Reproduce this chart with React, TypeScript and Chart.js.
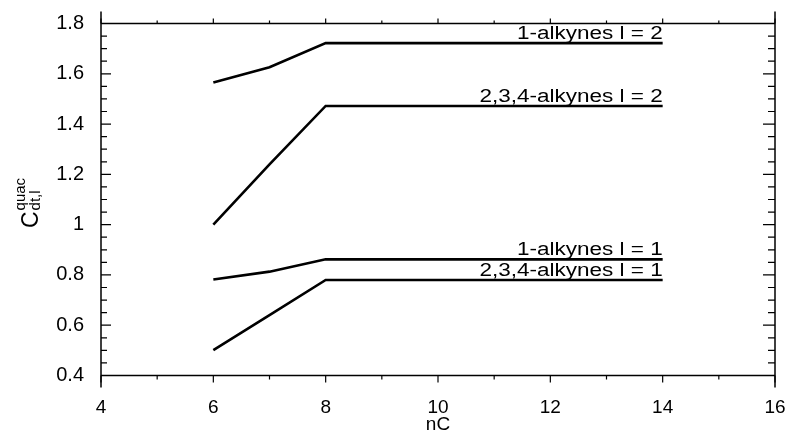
import React, { useEffect, useRef } from "react";
import { Chart, registerables } from "chart.js";

Chart.register(...registerables);

// ---- data ----
const nC = [6, 7, 8, 14];
const alk1_l2 = [1.565, 1.626, 1.722, 1.722];
const alk234_l2 = [1.0, 1.24, 1.472, 1.472];
const alk1_l1 = [0.782, 0.813, 0.862, 0.862];
const alk234_l1 = [0.501, 0.64, 0.78, 0.78];
const seriesLabels = ["1-alkynes l = 2", "2,3,4-alkynes l = 2", "1-alkynes l = 1", "2,3,4-alkynes l = 1"];
const xTicks = [4, 6, 8, 10, 12, 14, 16];
const yTicks = [0.4, 0.6, 0.8, 1.0, 1.2, 1.4, 1.6, 1.8];
const xTitle = "nC";

const FONT = "'Liberation Sans', Arial, Helvetica, sans-serif";

const framePlugin = {
  id: "frame",
  afterDraw(chart: any) {
    const ctx = chart.ctx;
    const xs = chart.scales.x;
    const ys = chart.scales.y;
    const { left, right, top, bottom } = chart.chartArea;
    ctx.save();
    ctx.strokeStyle = "#000";
    ctx.lineWidth = 1.5;
    // frame
    ctx.beginPath();
    ctx.moveTo(left, top - 12);
    ctx.lineTo(left, bottom + 12);
    ctx.moveTo(right, top - 12);
    ctx.lineTo(right, bottom + 12);
    ctx.moveTo(left, top);
    ctx.lineTo(right, top);
    ctx.moveTo(left, bottom);
    ctx.lineTo(right, bottom);
    ctx.stroke();
    // x ticks
    ctx.lineWidth = 1.2;
    ctx.beginPath();
    for (let i = 0; i < xTicks.length; i++) {
      const v = xTicks[i];
      const px = xs.getPixelForValue(v);
      ctx.moveTo(px, bottom);
      ctx.lineTo(px, bottom + 7);
      ctx.moveTo(px, top);
      ctx.lineTo(px, top - 5);
      if (i < xTicks.length - 1) {
        const mv = (v + xTicks[i + 1]) / 2;
        const mp = xs.getPixelForValue(mv);
        ctx.moveTo(mp, bottom);
        ctx.lineTo(mp, bottom + 4);
        ctx.moveTo(mp, top);
        ctx.lineTo(mp, top - 3);
      }
    }
    // y ticks
    for (let i = 0; i < yTicks.length; i++) {
      const v = yTicks[i];
      const py = ys.getPixelForValue(v);
      ctx.moveTo(left, py);
      ctx.lineTo(left + 10, py);
      ctx.moveTo(right, py);
      ctx.lineTo(right - 12, py);
      if (i < yTicks.length - 1) {
        const step = (yTicks[i + 1] - v) / 4;
        for (let k = 1; k < 4; k++) {
          const mp = ys.getPixelForValue(v + step * k);
          ctx.moveTo(left, mp);
          ctx.lineTo(left + 6, mp);
          ctx.moveTo(right, mp);
          ctx.lineTo(right - 7, mp);
        }
      }
    }
    ctx.stroke();

    // series labels
    ctx.fillStyle = "#000";
    ctx.font = `18px ${FONT}`;
    ctx.textAlign = "right";
    ctx.textBaseline = "alphabetic";
    chart.data.datasets.forEach((ds: any, i: number) => {
      const last = ds.data[ds.data.length - 1];
      const px = xs.getPixelForValue(last.x);
      const py = ys.getPixelForValue(last.y);
      ctx.save();
      ctx.translate(px, py - 4);
      ctx.scale(1.25, 1);
      ctx.fillText(seriesLabels[i], 0, 0);
      ctx.restore();
    });

    // x title
    ctx.font = `19px ${FONT}`;
    ctx.textAlign = "center";
    ctx.textBaseline = "middle";
    ctx.fillText(xTitle, (left + right) / 2, 425);

    // y title: C^{quac}_{dt,l}
    ctx.save();
    ctx.translate(30, (top + bottom) / 2);
    ctx.rotate(-Math.PI / 2);
    ctx.textAlign = "left";
    ctx.textBaseline = "alphabetic";
    ctx.font = `23px ${FONT}`;
    const wC = ctx.measureText("C").width;
    ctx.font = `15px ${FONT}`;
    const wSup = ctx.measureText("quac").width;
    const wSub = ctx.measureText("dt,l").width;
    const total = wC + Math.max(wSup, wSub);
    const x0 = -total / 2 - 4;
    ctx.font = `23px ${FONT}`;
    ctx.fillText("C", x0, 8);
    ctx.font = `15px ${FONT}`;
    ctx.fillText("quac", x0 + wC + 1, -5);
    ctx.fillText("dt,l", x0 + wC + 1, 10);
    ctx.restore();

    ctx.restore();
  },
};

export default function App() {
  const ref = useRef<HTMLCanvasElement | null>(null);
  useEffect(() => {
    document.body.style.margin = "0";
    if (!ref.current) return;
    const mk = (vals: number[]) => nC.map((x, i) => ({ x, y: vals[i] }));
    const series = [alk1_l2, alk234_l2, alk1_l1, alk234_l1];
    const chart = new Chart(ref.current, {
      type: "line",
      data: {
        datasets: series.map((s, i) => ({
          label: seriesLabels[i],
          data: mk(s),
          borderColor: "#000",
          backgroundColor: "#000",
          borderWidth: 2.6,
          pointRadius: 0,
          tension: 0,
          fill: false,
        })),
      },
      options: {
        responsive: false,
        animation: false,
        events: [],
        layout: { padding: { left: 0, right: 13, top: 23.5, bottom: 0 } },
        plugins: { legend: { display: false }, tooltip: { enabled: false }, title: { display: false } },
        scales: {
          x: {
            type: "linear",
            min: 4,
            max: 16,
            afterFit: (s: any) => {
              s.height = 58.5;
              s.paddingLeft = 0;
              s.paddingRight = 0;
            },
            afterBuildTicks: (s: any) => {
              s.ticks = xTicks.map((v) => ({ value: v }));
            },
            ticks: {
              color: "#000",
              font: { family: FONT, size: 19 },
              padding: 21,
              maxRotation: 0,
              callback: (v: any) => String(v),
            },
            grid: { display: false, drawTicks: false },
            border: { display: false },
          },
          y: {
            type: "linear",
            min: 0.4,
            max: 1.8,
            afterFit: (s: any) => {
              s.width = 101;
              s.paddingTop = 0;
              s.paddingBottom = 0;
            },
            afterBuildTicks: (s: any) => {
              s.ticks = yTicks.map((v) => ({ value: v }));
            },
            ticks: {
              color: "#000",
              font: { family: FONT, size: 20 },
              padding: 17,
              callback: (v: any) => String(Math.round(Number(v) * 10) / 10),
            },
            grid: { display: false, drawTicks: false },
            border: { display: false },
          },
        },
      },
      plugins: [framePlugin],
    });
    return () => chart.destroy();
  }, []);
  return (
    <div style={{ width: 788, height: 434, background: "#fff" }}>
      <canvas ref={ref} width={788} height={434} style={{ display: "block" }} />
    </div>
  );
}
